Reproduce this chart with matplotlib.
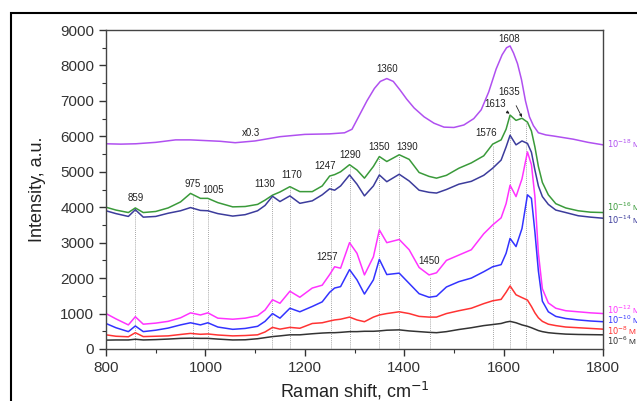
import matplotlib
matplotlib.use("Agg")
import matplotlib.pyplot as plt
import matplotlib.patches as patches

plt.rcParams['font.family'] = ['Liberation Sans', 'DejaVu Sans']

# Raman shift grid (cm-1)
shift = [800, 820, 845, 859, 875, 900, 925, 950, 970, 990, 1005, 1025, 1055, 1080,
         1105, 1120, 1135, 1150, 1170, 1190, 1215, 1235, 1250, 1260, 1272, 1290,
         1305, 1320, 1338, 1350, 1365, 1390, 1410, 1430, 1450, 1465, 1485, 1510,
         1535, 1560, 1578, 1595, 1605, 1613, 1625, 1637, 1648, 1656, 1663, 1670,
         1678, 1690, 1705, 1725, 1750, 1775, 1800]

# the 10^-18 M spectrum (shown x0.3) has its own, finer grid
shift_18 = [800, 830, 860, 900, 940, 970, 1000, 1030, 1060, 1100, 1150, 1200, 1250, 1280,
            1295, 1310, 1325, 1340, 1352, 1365, 1378, 1392, 1405, 1420, 1440, 1460,
            1480, 1500, 1520, 1540, 1555, 1570, 1585, 1597, 1606, 1613, 1620, 1628,
            1636, 1644, 1652, 1660, 1670, 1685, 1700, 1740, 1770, 1800]
i_18 = [5790, 5780, 5790, 5830, 5900, 5900, 5880, 5860, 5820, 5870, 5990, 6055, 6070, 6100,
        6200, 6600, 7000, 7350, 7550, 7630, 7550, 7300, 7050, 6800, 6550, 6370,
        6260, 6250, 6320, 6500, 6750, 7250, 7900, 8300, 8500, 8550, 8350, 8050,
        7600, 7000, 6550, 6300, 6100, 6040, 6010, 5920, 5830, 5760]

# intensities for the other concentrations
i_16 = [4000, 3920, 3850, 3980, 3850, 3880, 3980, 4150, 4390, 4250, 4250, 4130, 4010, 4020,
        4080, 4200, 4340, 4430, 4580, 4440, 4440, 4600, 4880, 4920, 5000, 5200,
        5050, 4820, 5150, 5430, 5290, 5480, 5350, 4980, 4870, 4820, 4900, 5100,
        5250, 5450, 5780, 5900, 6200, 6600, 6450, 6510, 6400, 6150, 5700, 5150,
        4700, 4350, 4100, 3980, 3900, 3860, 3850]
i_14 = [3900, 3820, 3740, 3930, 3720, 3740, 3830, 3900, 3990, 3910, 3900, 3820, 3750, 3790,
        3900, 4050, 4310, 4160, 4320, 4110, 4180, 4350, 4520, 4480, 4600, 4910,
        4650, 4320, 4600, 4910, 4720, 4930, 4740, 4480, 4420, 4400, 4500, 4650,
        4730, 4900, 5100, 5330, 5700, 6030, 5760, 5870, 5800, 5550, 5050, 4600,
        4300, 4080, 3920, 3850, 3760, 3720, 3690]
i_12 = [1000, 850, 680, 910, 700, 730, 780, 880, 1020, 960, 1020, 870, 840, 870,
        940, 1100, 1390, 1290, 1630, 1460, 1720, 1800, 2100, 2320, 2280, 3000,
        2700, 2090, 2600, 3360, 3000, 3090, 2800, 2300, 2090, 2150, 2500, 2650,
        2800, 3250, 3500, 3700, 4100, 4620, 4300, 4800, 5560, 5200, 4300, 2700,
        1700, 1300, 1150, 1080, 1050, 1020, 1000]
i_10 = [720, 600, 490, 650, 490, 530, 590, 680, 740, 680, 740, 620, 555, 580,
        640, 780, 1000, 870, 1150, 1050, 1200, 1330, 1600, 1720, 1760, 2240,
        1950, 1550, 1950, 2530, 2100, 2140, 1850, 1560, 1460, 1490, 1750, 1900,
        2000, 2180, 2320, 2380, 2700, 3120, 2890, 3400, 4350, 4250, 3300, 2200,
        1350, 1050, 920, 860, 820, 790, 770]
i_8 = [400, 360, 345, 460, 350, 360, 370, 410, 440, 415, 425, 395, 370, 380,
       400, 480, 610, 560, 610, 585, 720, 740, 790, 820, 840, 900,
       820, 770, 900, 960, 1000, 1050, 1000, 920, 900, 900, 1000, 1080,
       1150, 1280, 1360, 1400, 1600, 1780, 1530, 1450, 1380, 1200, 1020, 880,
       780, 700, 660, 620, 600, 580, 560]
i_6 = [250, 255, 255, 275, 255, 265, 280, 300, 305, 300, 300, 280, 255, 260,
       290, 320, 350, 370, 400, 400, 430, 450, 460, 460, 470, 490,
       490, 500, 500, 510, 530, 540, 510, 490, 470, 460, 490, 550,
       600, 660, 690, 720, 760, 780, 740, 680, 640, 600, 560, 520,
       490, 460, 440, 420, 410, 405, 400]

series = [(shift_18, i_18), (shift, i_16), (shift, i_14), (shift, i_12),
          (shift, i_10), (shift, i_8), (shift, i_6)]
names = ["$10^{-18}$ M", "$10^{-16}$ M", "$10^{-14}$ M", "$10^{-12}$ M",
         "$10^{-10}$ M", "$10^{-8}$ M", "$10^{-6}$ M"]
colors = ["#b050f0", "#3a9a3a", "#3c3c9c", "#ff33ff", "#3333ff", "#ff3333", "#333333"]
name_y = [5800, 4000, 3640, 1110, 810, 510, 230]

# marked bands: dotted line positions and how high they reach
band_x = [859, 975, 1005, 1135, 1170, 1252, 1290, 1350, 1390, 1452, 1578, 1613, 1645]
band_top = [3950, 4350, 4200, 4300, 4550, 4850, 5150, 5400, 5450, 2050, 5750, 6550, 6400]

# peak labels
peak_txt = ["859", "975", "1005", "1130", "1170", "1247", "1290", "1350", "1390",
            "1257", "1450", "1576", "1360", "1608", "x0.3"]
peak_x = [860, 975, 1016, 1120, 1173, 1241, 1292, 1350, 1406, 1245, 1450, 1564, 1365, 1611, 1091]
peak_y = [4250, 4650, 4490, 4650, 4910, 5160, 5470, 5700, 5700, 2590, 2480, 6090, 7890, 8750, 6090]

fig = plt.figure(figsize=(6.37, 4.01), dpi=100)
ax = fig.add_axes([106 / 637, 52 / 401, 497 / 637, 319 / 401])

for bx, bt in zip(band_x, band_top):
    ax.plot([bx, bx], [0, bt], color="#888888", lw=0.6, ls=(0, (1, 1.5)), zorder=1)

for (sx, y), c, n, ny in zip(series, colors, names, name_y):
    ax.plot(sx, y, color=c, lw=1.1, zorder=2)
    ax.text(1808, ny, n, color=c, fontsize=6, va="center", ha="left", clip_on=False)

for t, px, py in zip(peak_txt, peak_x, peak_y):
    ax.text(px, py, t, fontsize=7, ha="center", va="center", color="#222222")

ax.annotate("1613", xy=(1612, 6640), xytext=(1583, 6910), fontsize=7, ha="center",
            va="center", color="#222222",
            arrowprops=dict(arrowstyle="-|>", color="#222222", lw=0.6, mutation_scale=4,
                            shrinkA=6, shrinkB=0))
ax.annotate("1635", xy=(1637, 6540), xytext=(1611, 7260), fontsize=7, ha="center",
            va="center", color="#222222",
            arrowprops=dict(arrowstyle="-|>", color="#222222", lw=0.6, mutation_scale=4,
                            shrinkA=5, shrinkB=0))

ax.set_xlim(800, 1800)
ax.set_ylim(0, 9000)
ax.set_xticks(range(800, 1801, 200))
ax.set_xticks(range(900, 1800, 200), minor=True)
ax.set_yticks(range(0, 9001, 1000))
ax.set_yticks(range(500, 9000, 1000), minor=True)
ax.tick_params(which="major", direction="out", length=5, width=1, labelsize=11,
               colors="#333333")
ax.tick_params(which="minor", direction="out", length=3, width=0.8, colors="#333333")
for s in ax.spines.values():
    s.set_color("#444444")
    s.set_linewidth(1.0)

ax.set_xlabel("Raman shift, cm$^{-1}$", fontsize=13, color="#222222", labelpad=4)
ax.set_ylabel("Intensity, a.u.", fontsize=13, color="#222222", labelpad=10)

# outer frame running off the right and bottom edges
fig.add_artist(patches.Rectangle((11 / 637, -0.2), 1.2, 0.9676 + 0.2,
                                 transform=fig.transFigure, fill=False,
                                 edgecolor="black", lw=1.5))

fig.savefig("out.png", dpi=100)
